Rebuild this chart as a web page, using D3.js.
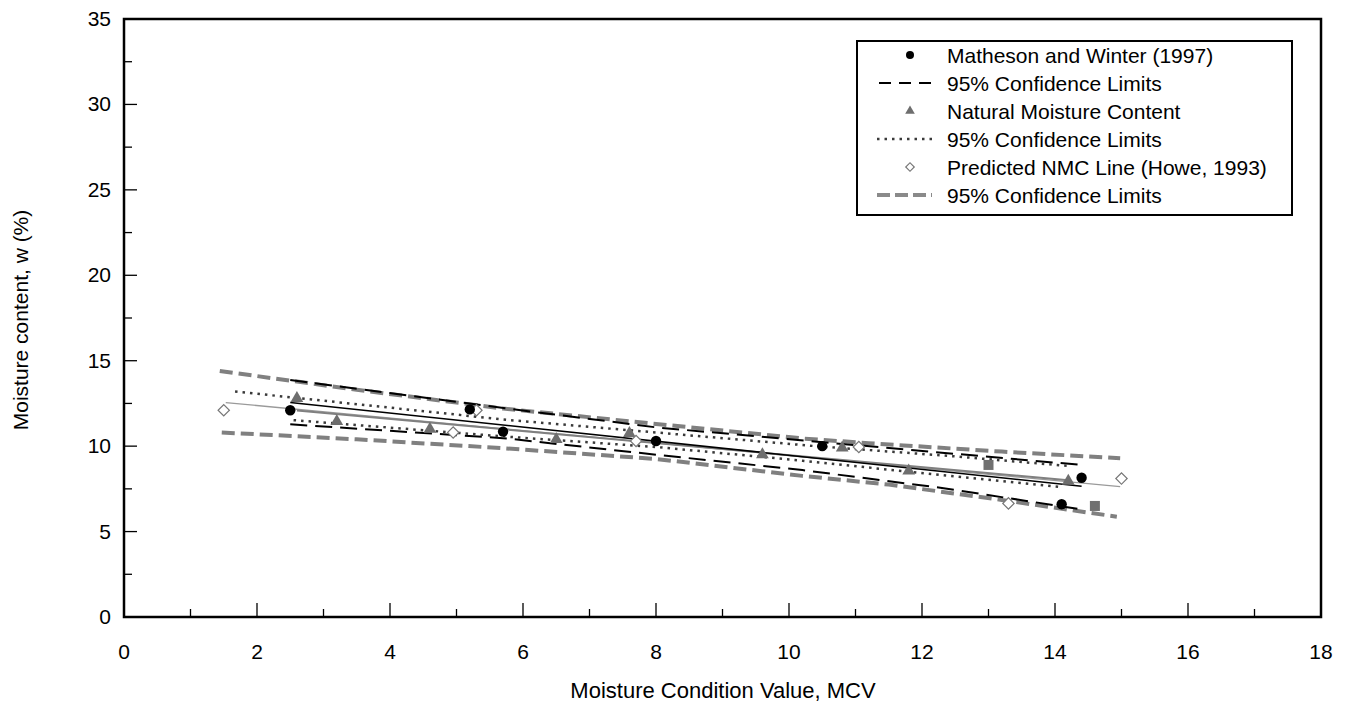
<!DOCTYPE html>
<html><head><meta charset="utf-8">
<script src="https://cdn.jsdelivr.net/npm/d3@7"></script>
<style>body{margin:0;background:#fff}svg{display:block}text{font-family:Arial,"Liberation Sans",sans-serif}</style>
</head><body><svg id="c" width="1348" height="709"></svg>
<script>
// ---- data ----
const xTicks = [0,2,4,6,8,10,12,14,16,18];
const yTicks = [0,5,10,15,20,25,30,35];
const mathesonPts = [[2.5,12.1],[5.2,12.15],[5.7,10.85],[8.0,10.3],[10.5,10.0],[14.1,6.6],[14.4,8.15]];
const nmcPts = [[2.6,12.8],[3.2,11.45],[4.6,11.0],[6.5,10.4],[7.6,10.75],[9.6,9.5],[10.8,9.9],[11.8,8.55],[14.2,7.95]];
const squarePts = [[13.0,8.9],[14.6,6.5]];
const predictedPts = [[1.5,12.1],[4.95,10.8],[5.3,12.1],[7.7,10.3],[11.05,9.95],[13.3,6.65],[15.0,8.1]];
const mathesonLine = [[2.5,12.56],[14.4,7.65]];
const nmcLine = [[2.6,12.08],[14.2,8.0]];
const predictedLine = [[1.53,12.55],[14.98,7.63]];
const mathesonUpper = [[2.5,13.87],[5.75,12.21],[8.0,11.1],[10.3,10.3],[12.5,9.55],[14.4,8.9]];
const mathesonLower = [[2.5,11.28],[5.75,10.45],[8.0,9.5],[10.2,8.6],[12.3,7.55],[14.4,6.3]];
const nmcUpper = [[1.67,13.2],[5.7,11.56],[8.0,10.8],[10.4,10.0],[12.5,9.4],[14.2,8.84]];
const nmcLower = [[2.55,11.52],[5.7,10.57],[8.0,9.95],[10.2,9.15],[12.3,8.3],[14.12,7.59]];
const predUpper = [[1.44,14.4],[3.5,13.3],[5.7,12.2],[8.0,11.3],[10.2,10.45],[11.2,10.17],[13.2,9.68],[14.98,9.29]];
const predLower = [[1.47,10.8],[3.5,10.4],[5.7,9.88],[8.0,9.25],[10.2,8.26],[11.5,7.75],[13.2,6.85],[14.93,5.87]];
const legendLabels = ["Matheson and Winter (1997)","95% Confidence Limits","Natural Moisture Content","95% Confidence Limits","Predicted NMC Line (Howe, 1993)","95% Confidence Limits"];

// ---- layout ----
const svg = d3.select("#c");
const L=124, R=1321, T=19, B=617;
const x = d3.scaleLinear().domain([0,18]).range([L,R]);
const y = d3.scaleLinear().domain([0,35]).range([B,T]);
const line = d3.line().x(d=>x(d[0])).y(d=>y(d[1]));

// ticks (inward)
const minorX = d3.range(1,18,2), minorY = d3.range(2.5,35,5);
const g = svg.append("g");
g.selectAll(".mx").data(xTicks.slice(1,-1)).join("line").attr("x1",d=>x(d)).attr("x2",d=>x(d)).attr("y1",B).attr("y2",B-14).attr("stroke","#000").attr("stroke-width",1.3);
g.selectAll(".nx").data(minorX).join("line").attr("x1",d=>x(d)).attr("x2",d=>x(d)).attr("y1",B).attr("y2",B-8).attr("stroke","#000").attr("stroke-width",1.3);
g.selectAll(".my").data(yTicks.slice(1,-1)).join("line").attr("y1",d=>y(d)).attr("y2",d=>y(d)).attr("x1",L).attr("x2",L+13).attr("stroke","#000").attr("stroke-width",1.3);
g.selectAll(".ny").data(minorY).join("line").attr("y1",d=>y(d)).attr("y2",d=>y(d)).attr("x1",L).attr("x2",L+8).attr("stroke","#000").attr("stroke-width",1.3);

// tick labels
const FS = 21;
svg.selectAll(".xl").data(xTicks).join("text").attr("x",d=>x(d)).attr("y",B+42).attr("text-anchor","middle").attr("font-size",FS).text(d=>d);
svg.selectAll(".yl").data(yTicks).join("text").attr("x",L-13).attr("y",d=>y(d)+7).attr("text-anchor","end").attr("font-size",FS).text(d=>d);
svg.append("text").attr("x",723).attr("y",698).attr("text-anchor","middle").attr("font-size",22).text("Moisture Condition Value, MCV");
svg.append("text").attr("transform",`translate(28,${(T+B)/2+2}) rotate(-90)`).attr("text-anchor","middle").attr("font-size",FS).text("Moisture content, w (%)");

// lines
const P = svg.append("g");
function path(data, stroke, w, dash){ P.append("path").datum(data).attr("d",line).attr("fill","none").attr("stroke",stroke).attr("stroke-width",w).attr("stroke-dasharray",dash||null); }
path(predUpper,"#808080",4,"13,6");
path(predLower,"#808080",4,"13,6");
path(predictedLine,"#9a9a9a",1.3);
path(nmcLine,"#808080",2);
path(mathesonLine,"#000",1.5);
path(mathesonUpper,"#000",2,"17,8");
path(mathesonLower,"#000",2,"17,8");
path(nmcUpper,"#3a3a3a",2.5,"2.5,5");
path(nmcLower,"#3a3a3a",2.5,"2.5,5");

// markers
const tri = d3.symbol().type(d3.symbolTriangle).size(70);
const dia = d3.symbol().type(d3.symbolSquare).size(64);
P.selectAll(".sq").data(squarePts).join("rect").attr("x",d=>x(d[0])-5).attr("y",d=>y(d[1])-5).attr("width",10).attr("height",10).attr("fill","#707070");
P.selectAll(".tr").data(nmcPts).join("path").attr("d",tri).attr("transform",d=>`translate(${x(d[0])},${y(d[1])})`).attr("fill","#6e6e6e");
P.selectAll(".di").data(predictedPts).join("path").attr("d",dia).attr("transform",d=>`translate(${x(d[0])},${y(d[1])}) rotate(45)`).attr("fill","#fff").attr("stroke","#777").attr("stroke-width",1.2);
P.selectAll(".ci").data(mathesonPts).join("circle").attr("cx",d=>x(d[0])).attr("cy",d=>y(d[1])).attr("r",5.2).attr("fill","#000");

// frame
svg.append("rect").attr("x",L).attr("y",T).attr("width",R-L).attr("height",B-T).attr("fill","none").attr("stroke","#000").attr("stroke-width",2.5);

// legend
const LG = svg.append("g");
LG.append("rect").attr("x",857).attr("y",41).attr("width",435).attr("height",174).attr("fill","#fff").attr("stroke","#000").attr("stroke-width",2);
const rowY = i => 55 + i*28;
LG.selectAll("text").data(legendLabels).join("text").attr("x",947).attr("y",(d,i)=>rowY(i)+7.5).attr("font-size",FS).text(d=>d);
LG.append("circle").attr("cx",910).attr("cy",rowY(0)).attr("r",4).attr("fill","#000");
LG.append("line").attr("x1",879).attr("x2",932).attr("y1",rowY(1)).attr("y2",rowY(1)).attr("stroke","#000").attr("stroke-width",2).attr("stroke-dasharray","12,8");
LG.append("path").attr("d",d3.symbol().type(d3.symbolTriangle).size(40)).attr("transform",`translate(910,${rowY(2)})`).attr("fill","#6e6e6e");
LG.append("line").attr("x1",877).attr("x2",932).attr("y1",rowY(3)).attr("y2",rowY(3)).attr("stroke","#3a3a3a").attr("stroke-width",2.5).attr("stroke-dasharray","2.5,5");
LG.append("path").attr("d",d3.symbol().type(d3.symbolSquare).size(36)).attr("transform",`translate(910,${rowY(4)}) rotate(45)`).attr("fill","#fff").attr("stroke","#777").attr("stroke-width",1.2);
LG.append("line").attr("x1",877).attr("x2",932).attr("y1",rowY(5)).attr("y2",rowY(5)).attr("stroke","#8a8a8a").attr("stroke-width",4).attr("stroke-dasharray","13,5");
</script></body></html>
